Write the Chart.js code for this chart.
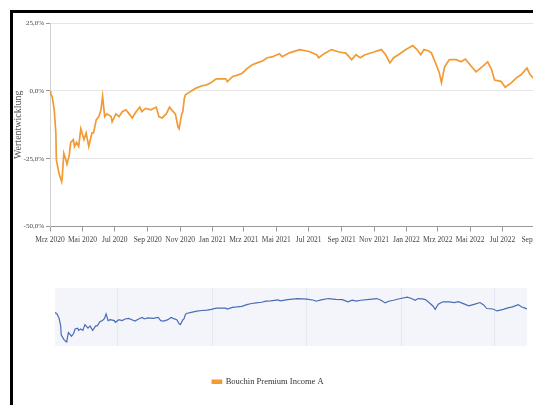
<!DOCTYPE html>
<html>
<head>
<meta charset="utf-8">
<script src="https://cdn.jsdelivr.net/npm/chart.js@4.4.0/dist/chart.umd.min.js"></script>
<style>
html, body { margin: 0; padding: 0; width: 533px; height: 405px; overflow: hidden; background: #fff; }
#frame { position: absolute; left: 10px; top: 10px; width: 640px; height: 520px; border: 3px solid #000; box-sizing: border-box; }
#mainChart { position: absolute; left: 0; top: 0; }
#navChart { position: absolute; left: 0; top: 270px; }
</style>
</head>
<body>
<div id="frame"></div>
<canvas id="mainChart" width="600" height="400"></canvas>
<canvas id="navChart" width="600" height="90"></canvas>
<script>
// fund performance in %
var fundName = "Bouchin Premium Income A";

var dates = [
  "2020-03-02","2020-03-03","2020-03-05","2020-03-09","2020-03-12","2020-03-13","2020-03-18","2020-03-23","2020-03-24","2020-03-27",
  "2020-03-31","2020-04-02","2020-04-06","2020-04-09","2020-04-14","2020-04-16","2020-04-20","2020-04-24","2020-04-28","2020-05-04",
  "2020-05-08","2020-05-13","2020-05-19","2020-05-22","2020-05-27","2020-06-01","2020-06-05","2020-06-08","2020-06-12","2020-06-16",
  "2020-06-24","2020-06-26","2020-07-03","2020-07-09","2020-07-15","2020-07-22","2020-07-28","2020-08-03","2020-08-10","2020-08-17",
  "2020-08-21","2020-08-28","2020-09-07","2020-09-17","2020-09-22","2020-09-28","2020-10-06","2020-10-12","2020-10-16","2020-10-23",
  "2020-10-28","2020-10-30","2020-11-04","2020-11-06","2020-11-09","2020-11-11","2020-11-20","2020-12-01","2020-12-11","2020-12-21",
  "2020-12-29","2021-01-08","2021-01-18","2021-01-26","2021-01-29","2021-02-08","2021-02-17","2021-02-26","2021-03-08","2021-03-17",
  "2021-03-26","2021-04-05","2021-04-14","2021-04-23","2021-05-07","2021-05-12","2021-05-26","2021-06-14","2021-07-02","2021-07-16",
  "2021-07-20","2021-07-30","2021-08-13","2021-08-27","2021-09-09","2021-09-20","2021-09-28","2021-10-06","2021-10-15","2021-11-01",
  "2021-11-15","2021-11-23","2021-12-01","2021-12-08","2021-12-17","2021-12-31","2022-01-13","2022-01-21","2022-01-28","2022-02-03",
  "2022-02-11","2022-02-17","2022-02-24","2022-03-04","2022-03-08","2022-03-14","2022-03-23","2022-04-05","2022-04-14","2022-04-22",
  "2022-05-04","2022-05-12","2022-05-24","2022-06-03","2022-06-10","2022-06-16","2022-06-28","2022-07-06","2022-07-18","2022-07-27",
  "2022-08-05","2022-08-16","2022-08-22","2022-08-29","2022-09-02"
];

var values = [
  0, -1.5, -2, -7, -15.5, -25.5, -30.5, -33.5, -32, -23,
  -25.5, -27, -24, -19, -18, -20.5, -19, -20.5, -14, -18,
  -15.5, -20.5, -15.5, -15.5, -10.7, -9.5, -7, -2, -9.5, -8.5,
  -9.5, -11.4, -8.5, -9.5, -7.7, -7, -8.5, -10, -7.7, -6,
  -7.7, -6.5, -7, -6, -9.5, -10, -8.5, -6, -7, -8.5,
  -13.3, -14, -8.5, -7.7, -2.6, -1.5, -0.3, 1, 1.8, 2.2,
  3, 4.4, 4.4, 4.4, 3.4, 5.3, 5.8, 6.5, 8.4, 9.6,
  10.3, 11, 12.2, 12.5, 13.7, 12.6, 14, 15.2, 14.5, 13.3,
  12.2, 13.7, 15.2, 14.3, 13.9, 11.5, 13.3, 12.2, 13.3, 14.3,
  15.2, 13.3, 10.3, 12.2, 13.3, 15.2, 16.7, 15.2, 13.3, 15.2,
  14.8, 14, 10.7, 6.6, 3, 8.9, 11.5, 11.5, 10.7, 11.7,
  8.9, 7, 8.9, 10.7, 8, 4, 3.5, 1.3, 3, 4.8,
  5.9, 8.4, 5.9, 4.5, 3.5
];

var mainTickDates = ["2020-03-01","2020-05-01","2020-07-01","2020-09-01","2020-11-01","2021-01-01","2021-03-01","2021-05-01",
  "2021-07-01","2021-09-01","2021-11-01","2022-01-01","2022-03-01","2022-05-01","2022-07-01","2022-09-01"];
var mainTickLabels = ["Mrz 2020","Mai 2020","Jul 2020","Sep 2020","Nov 2020","Jan 2021","Mrz 2021","Mai 2021",
  "Jul 2021","Sep 2021","Nov 2021","Jan 2022","Mrz 2022","Mai 2022","Jul 2022","Sep 2022"];

var navTickDates = ["2020-07-01","2021-01-01","2021-07-01","2022-01-01","2022-07-01"];
var navTickLabels = ["Jul '20","Jan '21","Jul '21","Jan '22","Jul '22"];

var yTicks = [-50, -25, 0, 25];
var yTickLabels = ["-50,0%", "-25,0%", "0,0%", "25,0%"];

Chart.defaults.font.family = "'Liberation Serif', 'DejaVu Serif', serif";

const startUTC = Date.UTC(2020, 2, 1);
const toDay = (s) => {
  var p = s.split("-");
  return (Date.UTC(+p[0], +p[1] - 1, +p[2]) - startUTC) / 86400000;
};

var points = dates.map((d, i) => ({ x: toDay(d), y: values[i] }));
var lastDay = toDay(dates[dates.length - 1]);
var mainTickDays = mainTickDates.map(toDay);
var navTickDays = navTickDates.map(toDay);

const orange = "#f39a35";

var mainChart = new Chart(document.getElementById("mainChart"), {
  type: "line",
  data: {
    datasets: [{
      label: fundName,
      data: points,
      borderColor: orange,
      backgroundColor: orange,
      borderWidth: 1.7,
      pointRadius: 0,
      tension: 0
    }]
  },
  options: {
    responsive: false,
    animation: false,
    devicePixelRatio: 1,
    layout: { padding: { left: 0, top: 23, right: 64, bottom: 4 } },
    plugins: {
      legend: {
        position: "bottom",
        labels: { boxWidth: 9, boxHeight: 3, padding: 5, color: "#333", font: { size: 8.5 } }
      },
      tooltip: { enabled: false }
    },
    scales: {
      x: {
        type: "linear",
        min: 0,
        max: lastDay,
        afterBuildTicks: (s) => { s.ticks = mainTickDays.map(v => ({ value: v })); },
        afterFit: (s) => { s.height = 146; },
        ticks: {
          autoSkip: false, maxRotation: 0, minRotation: 0, padding: 4,
          color: "#444", font: { size: 7.5 },
          callback: (v, i) => mainTickLabels[i]
        },
        grid: { drawOnChartArea: false, tickLength: 5, tickColor: "#999" },
        border: { color: "#999" }
      },
      y: {
        min: -50,
        max: 25,
        afterBuildTicks: (s) => { s.ticks = yTicks.map(v => ({ value: v })); },
        afterFit: (s) => { s.width = 50; },
        title: {
          display: true, text: "Wertentwicklung", color: "#555",
          font: { size: 10 }, padding: { top: 12, bottom: 0 }
        },
        ticks: {
          padding: 2, color: "#444", font: { size: 7 },
          callback: (v, i) => yTickLabels[i]
        },
        grid: { color: "#e6e6e6", tickLength: 4, tickColor: "#999" },
        border: { color: "#d0d0d0" }
      }
    }
  }
});

// light blue band behind the navigator series
const navShade = {
  id: "navShade",
  beforeDraw(chart) {
    const a = chart.chartArea;
    const c = chart.ctx;
    c.save();
    c.fillStyle = "rgba(102,133,194,0.08)";
    c.fillRect(a.left, a.top, a.right - a.left, a.bottom - a.top);
    c.restore();
  }
};

var navChart = new Chart(document.getElementById("navChart"), {
  type: "line",
  data: {
    datasets: [{
      label: fundName,
      data: points,
      borderColor: "#4a6cb3",
      borderWidth: 1.2,
      pointRadius: 0,
      tension: 0
    }]
  },
  options: {
    responsive: false,
    animation: false,
    devicePixelRatio: 1,
    layout: { padding: { left: 55, right: 73, top: 18, bottom: 14 } },
    plugins: { legend: { display: false }, tooltip: { enabled: false } },
    scales: {
      x: {
        type: "linear",
        min: 0,
        max: lastDay,
        afterBuildTicks: (s) => { s.ticks = navTickDays.map(v => ({ value: v })); },
        afterFit: (s) => { s.height = 0; },
        ticks: {
          autoSkip: false, maxRotation: 0, minRotation: 0, align: "start",
          labelOffset: 3, padding: -15, color: "#999", font: { size: 7.5 },
          callback: (v, i) => navTickLabels[i]
        },
        grid: { color: "#e4e8f0", drawTicks: false },
        border: { display: false }
      },
      y: { display: false, min: -38, max: 27 }
    }
  },
  plugins: [navShade]
});
</script>
</body>
</html>
